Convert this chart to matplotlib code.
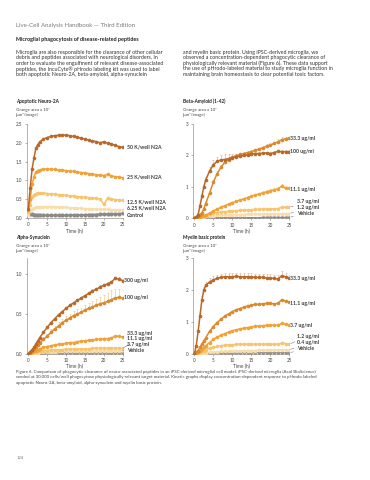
import matplotlib
matplotlib.use("Agg")
import matplotlib.pyplot as plt
import numpy as np

plt.rcParams['font.family'] = ['Liberation Sans Narrow', 'Lato', 'DejaVu Sans']

# ---------------- data ----------------
t = [0, 0.5, 1, 1.5, 2, 2.5, 3, 4, 5, 6, 7, 8, 9, 10, 11, 12, 13, 14, 15, 16, 17, 18, 19, 20, 21, 22, 23, 24, 25]

# Apoptotic Neuro-2A
n2a_labels = ["50 K/well N2A", "25 K/well N2A", "12.5 K/well N2A", "6.25 K/well N2A", "Control"]
n2a_50 = [0.25, 0.8, 1.3, 1.6, 1.85, 1.95, 2.02, 2.1, 2.14, 2.17, 2.19, 2.2, 2.21, 2.2, 2.19, 2.17, 2.15, 2.12, 2.1, 2.07, 2.05, 2.03, 2.0, 2.03, 1.99, 1.97, 1.93, 1.9, 1.88]
n2a_25 = [0.2, 0.5, 0.9, 1.1, 1.22, 1.26, 1.28, 1.3, 1.3, 1.3, 1.29, 1.28, 1.27, 1.26, 1.25, 1.24, 1.22, 1.21, 1.2, 1.18, 1.17, 1.15, 1.14, 1.13, 1.16, 1.12, 1.1, 1.09, 1.07]
n2a_12 = [0.15, 0.35, 0.55, 0.62, 0.65, 0.66, 0.66, 0.66, 0.65, 0.64, 0.63, 0.62, 0.61, 0.6, 0.59, 0.58, 0.57, 0.56, 0.55, 0.54, 0.53, 0.52, 0.51, 0.36, 0.52, 0.5, 0.49, 0.48, 0.47]
n2a_6 = [0.1, 0.18, 0.24, 0.27, 0.28, 0.29, 0.3, 0.3, 0.3, 0.3, 0.29, 0.29, 0.28, 0.28, 0.27, 0.27, 0.26, 0.26, 0.25, 0.25, 0.24, 0.24, 0.23, 0.23, 0.23, 0.22, 0.22, 0.21, 0.21]
n2a_ctrl = [0.13, 0.11, 0.1, 0.09, 0.08, 0.08, 0.07, 0.07, 0.07, 0.07, 0.07, 0.07, 0.07, 0.07, 0.07, 0.08, 0.08, 0.08, 0.08, 0.09, 0.09, 0.09, 0.1, 0.1, 0.1, 0.11, 0.11, 0.11, 0.12]

# Beta-Amyloid (1-42)
ab_labels = ["33.3 ug/ml", "100 ug/ml", "11.1 ug/ml", "3.7 ug/ml", "1.2 ug/ml", "Vehicle"]
ab_33 = [0, 0.03, 0.08, 0.12, 0.17, 0.3, 0.47, 0.8, 1.15, 1.42, 1.62, 1.78, 1.87, 1.94, 1.99, 2.03, 2.06, 2.09, 2.12, 2.16, 2.2, 2.24, 2.29, 2.33, 2.38, 2.43, 2.5, 2.53, 2.55]
ab_33_err = [0, 0.01, 0.02, 0.02, 0.03, 0.04, 0.05, 0.06, 0.07, 0.07, 0.07, 0.06, 0.06, 0.05, 0.05, 0.05, 0.05, 0.05, 0.05, 0.05, 0.05, 0.05, 0.06, 0.06, 0.06, 0.08, 0.08, 0.06, 0.05]
ab_100 = [0, 0.03, 0.12, 0.4, 0.7, 1.0, 1.22, 1.5, 1.7, 1.81, 1.86, 1.87, 1.9, 1.93, 1.96, 1.98, 2.0, 2.02, 2.04, 2.06, 2.06, 2.07, 2.08, 2.06, 2.09, 2.13, 2.12, 2.12, 2.12]
ab_100_err = [0, 0.02, 0.05, 0.07, 0.08, 0.09, 0.1, 0.12, 0.14, 0.15, 0.16, 0.16, 0.15, 0.12, 0.09, 0.07, 0.05, 0.05, 0.04, 0.04, 0.04, 0.04, 0.04, 0.05, 0.05, 0.05, 0.05, 0.04, 0.04]
ab_11 = [0, 0.01, 0.02, 0.04, 0.06, 0.08, 0.1, 0.16, 0.23, 0.29, 0.35, 0.4, 0.45, 0.5, 0.54, 0.58, 0.62, 0.66, 0.7, 0.74, 0.77, 0.81, 0.84, 0.88, 0.9, 0.94, 1.02, 0.96, 0.95]
ab_11_err = [0, 0, 0.01, 0.01, 0.01, 0.02, 0.02, 0.02, 0.03, 0.03, 0.03, 0.03, 0.03, 0.03, 0.04, 0.04, 0.04, 0.04, 0.04, 0.04, 0.04, 0.05, 0.05, 0.05, 0.05, 0.06, 0.07, 0.06, 0.05]
ab_3 = [0, 0.01, 0.02, 0.04, 0.06, 0.08, 0.1, 0.13, 0.16, 0.18, 0.2, 0.21, 0.22, 0.23, 0.24, 0.25, 0.26, 0.27, 0.27, 0.28, 0.28, 0.29, 0.29, 0.3, 0.3, 0.31, 0.35, 0.35, 0.35]
ab_1 = [0, 0.01, 0.02, 0.03, 0.04, 0.05, 0.06, 0.07, 0.08, 0.09, 0.1, 0.1, 0.11, 0.11, 0.12, 0.12, 0.12, 0.13, 0.13, 0.13, 0.13, 0.14, 0.14, 0.14, 0.14, 0.14, 0.15, 0.15, 0.15]
ab_veh = [0, 0, 0.01, 0.01, 0.01, 0.01, 0.01, 0.01, 0.01, 0.02, 0.02, 0.02, 0.02, 0.02, 0.02, 0.02, 0.02, 0.02, 0.02, 0.02, 0.02, 0.03, 0.03, 0.03, 0.03, 0.03, 0.03, 0.03, 0.03]

# Alpha-Synuclein
as_labels = ["300 ug/ml", "100 ug/ml", "33.3 ug/ml", "11.1 ug/ml", "3.7 ug/ml", "Vehicle"]
as_300 = [0, 0.02, 0.05, 0.08, 0.12, 0.16, 0.2, 0.27, 0.33, 0.39, 0.44, 0.49, 0.53, 0.57, 0.61, 0.64, 0.67, 0.7, 0.73, 0.76, 0.79, 0.81, 0.84, 0.86, 0.88, 0.9, 0.95, 0.94, 0.92]
as_300_err = [0, 0, 0.01, 0.01, 0.01, 0.01, 0.01, 0.01, 0.01, 0.01, 0.01, 0.01, 0.01, 0.01, 0.01, 0.01, 0.01, 0.01, 0.01, 0.01, 0.02, 0.02, 0.02, 0.02, 0.02, 0.02, 0.02, 0.02, 0.02]
as_100 = [0, 0.02, 0.04, 0.06, 0.08, 0.11, 0.13, 0.18, 0.22, 0.27, 0.31, 0.35, 0.39, 0.42, 0.45, 0.48, 0.5, 0.52, 0.55, 0.57, 0.59, 0.61, 0.63, 0.64, 0.66, 0.68, 0.7, 0.71, 0.7]
as_100_err = [0, 0, 0.01, 0.01, 0.02, 0.02, 0.02, 0.03, 0.03, 0.04, 0.04, 0.05, 0.05, 0.05, 0.05, 0.06, 0.06, 0.06, 0.06, 0.07, 0.07, 0.08, 0.08, 0.1, 0.11, 0.12, 0.12, 0.11, 0.1]
as_33 = [0, 0.01, 0.02, 0.03, 0.04, 0.05, 0.06, 0.08, 0.09, 0.1, 0.11, 0.12, 0.12, 0.13, 0.14, 0.14, 0.15, 0.16, 0.16, 0.17, 0.17, 0.18, 0.18, 0.19, 0.19, 0.2, 0.22, 0.22, 0.21]
as_11 = [0, 0.01, 0.01, 0.02, 0.02, 0.03, 0.03, 0.04, 0.04, 0.05, 0.05, 0.05, 0.05, 0.06, 0.06, 0.06, 0.06, 0.06, 0.06, 0.06, 0.07, 0.07, 0.07, 0.07, 0.07, 0.07, 0.07, 0.07, 0.07]
as_3 = [0, 0, 0.01, 0.01, 0.01, 0.01, 0.02, 0.02, 0.02, 0.02, 0.02, 0.03, 0.03, 0.03, 0.03, 0.03, 0.03, 0.03, 0.03, 0.03, 0.03, 0.03, 0.04, 0.04, 0.04, 0.04, 0.04, 0.04, 0.04]
as_veh = [0, 0, 0, 0, 0, 0, 0, 0, 0.01, 0.01, 0.01, 0.01, 0.01, 0.01, 0.01, 0.01, 0.01, 0.01, 0.01, 0.01, 0.01, 0.01, 0.01, 0.01, 0.01, 0.01, 0.01, 0.01, 0.01]

# Myelin basic protein
mbp_labels = ["33.3 ug/ml", "11.1 ug/ml", "3.7 ug/ml", "1.2 ug/ml", "0.4 ug/ml", "Vehicle"]
mbp_33 = [0, 0.25, 0.7, 1.2, 1.7, 2.0, 2.15, 2.25, 2.32, 2.37, 2.4, 2.42, 2.42, 2.42, 2.43, 2.42, 2.42, 2.42, 2.42, 2.4, 2.4, 2.4, 2.38, 2.38, 2.37, 2.35, 2.45, 2.42, 2.38]
mbp_33_err = [0, 0.03, 0.05, 0.08, 0.1, 0.1, 0.11, 0.12, 0.12, 0.12, 0.12, 0.12, 0.12, 0.12, 0.12, 0.12, 0.12, 0.12, 0.12, 0.12, 0.12, 0.12, 0.12, 0.12, 0.12, 0.13, 0.14, 0.12, 0.1]
mbp_11 = [0, 0.05, 0.1, 0.2, 0.3, 0.4, 0.5, 0.7, 0.85, 0.98, 1.08, 1.18, 1.25, 1.32, 1.38, 1.42, 1.46, 1.5, 1.52, 1.55, 1.55, 1.57, 1.58, 1.58, 1.57, 1.58, 1.7, 1.65, 1.63]
mbp_3 = [0, 0.02, 0.05, 0.1, 0.15, 0.2, 0.25, 0.35, 0.45, 0.52, 0.58, 0.63, 0.68, 0.72, 0.75, 0.78, 0.8, 0.82, 0.84, 0.86, 0.87, 0.88, 0.89, 0.9, 0.9, 0.9, 0.95, 0.92, 0.9]
mbp_1 = [0, 0.01, 0.03, 0.05, 0.08, 0.1, 0.13, 0.17, 0.2, 0.23, 0.25, 0.27, 0.28, 0.28, 0.29, 0.3, 0.3, 0.3, 0.3, 0.3, 0.3, 0.3, 0.3, 0.3, 0.3, 0.3, 0.33, 0.32, 0.3]
mbp_04 = [0, 0, 0.01, 0.01, 0.02, 0.03, 0.03, 0.04, 0.05, 0.06, 0.07, 0.07, 0.08, 0.08, 0.09, 0.09, 0.1, 0.1, 0.1, 0.1, 0.11, 0.11, 0.11, 0.11, 0.11, 0.12, 0.12, 0.12, 0.12]
mbp_veh = [0, 0, 0, 0.01, 0.01, 0.01, 0.01, 0.01, 0.02, 0.02, 0.02, 0.02, 0.02, 0.02, 0.02, 0.02, 0.03, 0.03, 0.03, 0.03, 0.03, 0.03, 0.03, 0.03, 0.03, 0.03, 0.03, 0.03, 0.03]

xticks = [0, 5, 10, 15, 20, 25]

# ---------------- style ----------------
C_DARK = '#b8692a'
C_MID = '#da8a2c'
C_ORG = '#f0a236'
C_LT = '#f6c46e'
C_PALE = '#fadcaa'
C_GRAY = '#8d8a86'
TXT = '#3a3a3a'
W, H = 370, 480
LBL = 3.7


def fx(px):
    return px / W


def fy(py):
    return 1 - py / H


fig = plt.figure(figsize=(3.7, 4.8), dpi=100)

# ---------------- page text ----------------
fig.text(fx(16), fy(25), "Live-Cell Analysis Handbook \u2014 Third Edition", fontsize=4.4, color='#7a7a7a', va='center')
fig.text(fx(16), fy(40), "Microglial phagocytosis of disease-related peptides", fontsize=3.9, color='#222222', weight='bold', va='center')
left_col = ["Microglia are also responsible for the clearance of other cellular",
            "debris and peptides associated with neurological disorders. In",
            "order to evaluate the engulfment of relevant disease-associated",
            "peptides, the IncuCyte\u00ae pHrodo labeling kit was used to label",
            "both apoptotic Neuro-2A, beta-amyloid, alpha-synuclein"]
right_col = ["and myelin basic protein. Using iPSC-derived microglia, we",
             "observed a concentration-dependent phagocytic clearance of",
             "physiologically relevant material (Figure 6). These data support",
             "the use of pHrodo-labeled material to study microglia function in",
             "maintaining brain homeostasis to clear potential toxic factors."]
for i, line in enumerate(left_col):
    fig.text(fx(16), fy(52.5 + 5.4 * i), line, fontsize=3.75, color='#333333', va='center')
for i, line in enumerate(right_col):
    fig.text(fx(183), fy(52.5 + 5.4 * i), line, fontsize=3.75, color='#333333', va='center')

caption = ["Figure 6. Comparison of phagocytic clearance of neuro-associated peptides in an iPSC-derived microglial cell model. iPSC-derived microglia (Axol BioScience)",
           "seeded at 30,000 cells/well phagocytose physiologically relevant target material. Kinetic graphs display concentration-dependent response to pHrodo labeled",
           "apoptotic Neuro-2A, beta-amyloid, alpha-synuclein and myelin basic protein."]
for i, line in enumerate(caption):
    fig.text(fx(16), fy(372 + 5.3 * i), line, fontsize=3.15, color='#444444', va='center')
fig.text(fx(16.5), fy(457.7), "124", fontsize=3.0, color='#777777', va='center')


# ---------------- panels ----------------
def make_ax(left_px, bottom_px, width_px, height_px, ylim, yticks, yticklabels, title, tx, ty):
    ax = fig.add_axes([fx(left_px), fy(bottom_px), width_px / W, height_px / H])
    ax.set_xlim(-0.4, 25)
    ax.set_ylim(*ylim)
    ax.set_xticks(xticks)
    ax.set_yticks(yticks)
    ax.set_yticklabels(yticklabels)
    for s in ['top', 'right']:
        ax.spines[s].set_visible(False)
    for s in ['left', 'bottom']:
        ax.spines[s].set_color('#7a7a7a')
        ax.spines[s].set_linewidth(0.4)
    ax.tick_params(length=1.6, width=0.4, color='#7a7a7a', labelsize=3.3, labelcolor='#444444', pad=1.5)
    ax.set_xlabel("Time (h)", fontsize=3.4, color='#444444', labelpad=0.8)
    fig.text(fx(tx), fy(ty), title, fontsize=3.45, weight='bold', color='#222222', va='center')
    fig.text(fx(tx), fy(ty + 8.3), "Orange area x 10\u2077", fontsize=3.1, color='#444444', va='center')
    fig.text(fx(tx), fy(ty + 13.6), "(\u00b5m\u00b2/image)", fontsize=3.1, color='#444444', va='center')
    ax.patch.set_alpha(0)
    return ax


def series(ax, y, color, err=None, z=3, ms=2.6, lw=1.1):
    if err is not None:
        ax.errorbar(t, y, yerr=[np.zeros(len(err)), err], fmt='none', ecolor=color, alpha=0.55,
                    elinewidth=0.4, capsize=0.9, capthick=0.4, zorder=z - 0.5)
    ax.plot(t, y, '-o', color=color, lw=lw, ms=ms, mew=0, zorder=z)


def label(ax, text, y_end, lx, ly, leader=False):
    if leader:
        ax.annotate(text, xy=(25, y_end), xytext=(lx, ly), textcoords='data', fontsize=LBL,
                    color=TXT, weight='bold', va='center', ha='left', annotation_clip=False,
                    arrowprops=dict(arrowstyle='-', color='#666666', lw=0.35, shrinkA=0.5, shrinkB=1))
    else:
        ax.text(lx, ly, text, fontsize=LBL, color=TXT, weight='bold', va='center', ha='left', clip_on=False)


# Apoptotic Neuro-2A
ax1 = make_ax(26.8, 218, 95.9, 94, (0, 2.5), [0, 0.5, 1.0, 1.5, 2.0, 2.5],
              ["0.0", "0.5", "1.0", "1.5", "2.0", "2.5"], "Apoptotic Neuro-2A", 16, 101.7)
series(ax1, n2a_ctrl, C_GRAY, ms=3.0, lw=1.4)
series(ax1, n2a_6, C_PALE)
series(ax1, n2a_12, C_LT)
series(ax1, n2a_25, C_ORG)
series(ax1, n2a_50, C_DARK)
for txt, ly in zip(n2a_labels, [1.88, 1.08, 0.42, 0.26, 0.07]):
    label(ax1, txt, None, 26.1, ly)

# Beta-Amyloid
ax2 = make_ax(192.8, 218.3, 96.5, 94.3, (0, 3), [0, 1, 2, 3], ["0", "1", "2", "3"],
              "Beta-Amyloid (1-42)", 183, 101.7)
series(ax2, ab_veh, C_GRAY, ms=2.0, lw=0.9)
series(ax2, ab_1, C_PALE)
series(ax2, ab_3, C_LT)
series(ax2, ab_11, C_ORG, err=ab_11_err)
series(ax2, ab_33, C_MID, err=ab_33_err)
series(ax2, ab_100, C_DARK, err=ab_100_err)
label(ax2, ab_labels[0], None, 25.3, 2.55)
label(ax2, ab_labels[1], None, 25.3, 2.12)
label(ax2, ab_labels[2], None, 25.3, 0.93)
label(ax2, ab_labels[3], ab_3[-1], 27.0, 0.53, leader=True)
label(ax2, ab_labels[4], ab_1[-1], 27.0, 0.33, leader=True)
label(ax2, ab_labels[5], ab_veh[-1], 27.0, 0.15, leader=True)

# Alpha-Synuclein
ax3 = make_ax(26.8, 353.7, 95.9, 95.3, (0, 1.2), [0, 0.5, 1.0], ["0.0", "0.5", "1.0"],
              "Alpha-Synuclein", 16, 237.3)
series(ax3, as_veh, C_GRAY, ms=2.0, lw=0.9)
series(ax3, as_3, C_PALE)
series(ax3, as_11, C_LT)
series(ax3, as_33, C_ORG)
series(ax3, as_100, C_MID, err=as_100_err)
series(ax3, as_300, C_DARK, err=as_300_err)
label(ax3, as_labels[0], None, 25.4, 0.92)
label(ax3, as_labels[1], None, 25.4, 0.705)
label(ax3, as_labels[2], as_33[-1], 26.2, 0.26, leader=True)
label(ax3, as_labels[3], as_11[-1], 26.2, 0.19, leader=True)
label(ax3, as_labels[4], as_3[-1], 26.2, 0.115, leader=True)
label(ax3, as_labels[5], as_veh[-1], 26.2, 0.035, leader=True)

# Myelin basic protein
ax4 = make_ax(192.8, 353.7, 96.5, 95.4, (0, 3), [0, 1, 2, 3], ["0", "1", "2", "3"],
              "Myelin basic protein", 183, 237.3)
series(ax4, mbp_veh, C_GRAY, ms=2.0, lw=0.9)
series(ax4, mbp_04, C_PALE)
series(ax4, mbp_1, C_LT)
series(ax4, mbp_3, C_ORG)
series(ax4, mbp_11, C_MID)
series(ax4, mbp_33, C_DARK, err=mbp_33_err)
label(ax4, mbp_labels[0], None, 25.3, 2.35)
label(ax4, mbp_labels[1], None, 25.3, 1.58)
label(ax4, mbp_labels[2], None, 25.3, 0.88)
label(ax4, mbp_labels[3], mbp_1[-1], 27.0, 0.55, leader=True)
label(ax4, mbp_labels[4], mbp_04[-1], 27.0, 0.35, leader=True)
label(ax4, mbp_labels[5], mbp_veh[-1], 27.0, 0.15, leader=True)

fig.savefig("out.png", dpi=100)
